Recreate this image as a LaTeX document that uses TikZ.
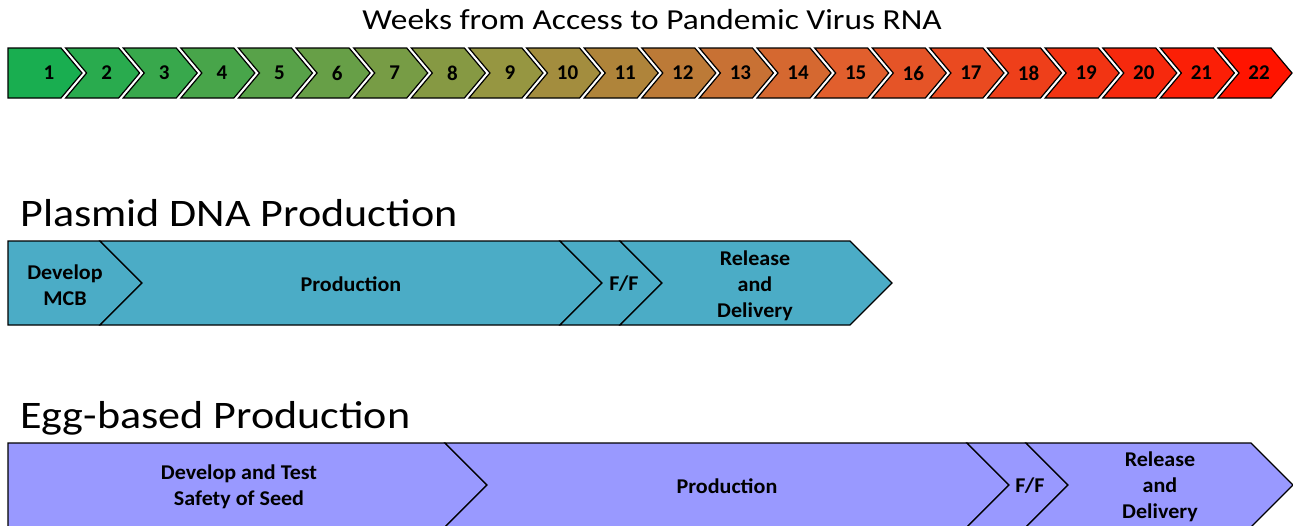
\documentclass[tikz,border=0pt]{standalone}
\usepackage{fontspec}
\setmainfont{Carlito}
\definecolor{tc1}{RGB}{25,174,80}
\definecolor{tc2}{RGB}{41,171,78}
\definecolor{tc3}{RGB}{56,168,76}
\definecolor{tc4}{RGB}{72,165,74}
\definecolor{tc5}{RGB}{88,162,73}
\definecolor{tc6}{RGB}{103,159,71}
\definecolor{tc7}{RGB}{119,156,69}
\definecolor{tc8}{RGB}{134,153,67}
\definecolor{tc9}{RGB}{150,150,65}
\definecolor{tc10}{RGB}{163,141,62}
\definecolor{tc11}{RGB}{175,132,58}
\definecolor{tc12}{RGB}{188,122,55}
\definecolor{tc13}{RGB}{200,113,52}
\definecolor{tc14}{RGB}{213,104,48}
\definecolor{tc15}{RGB}{225,95,45}
\definecolor{tc16}{RGB}{229,84,39}
\definecolor{tc17}{RGB}{234,74,32}
\definecolor{tc18}{RGB}{238,63,26}
\definecolor{tc19}{RGB}{242,52,19}
\definecolor{tc20}{RGB}{246,41,13}
\definecolor{tc21}{RGB}{251,31,6}
\definecolor{tc22}{RGB}{255,20,0}
\definecolor{plasmid}{RGB}{75,172,198}
\definecolor{egg}{RGB}{153,153,255}
\tikzset{
  chev/.style={draw=black, line width=1.2pt, line join=miter},
  tnum/.style={font=\bfseries\fontsize{21}{24}\selectfont, inner sep=0pt},
  lbl/.style={font=\bfseries\fontsize{21}{26}\selectfont, align=center, inner sep=0pt, xscale=1.05},
  head/.style={font=\fontsize{39}{46}\selectfont, anchor=base west, inner sep=0pt, xscale=1.13},
}
\begin{document}
\begin{tikzpicture}[x=1pt,y=-1pt]
\useasboundingbox (0,0) rectangle (1293,525);
% title
\node[font=\fontsize{29}{34}\selectfont, anchor=base, inner sep=0pt, xscale=1.15] (title) at (652,29) {Weeks from Access to Pandemic Virus RNA};
% timeline
\foreach \k in {1,...,22}{
  \pgfmathsetmacro{\x}{8+(\k-1)*57.62}
  \ifnum\k=1
    \draw[chev, fill=tc\k] (\x,48) -- (\x+53,48) -- (\x+74,73) -- (\x+53,98) -- (\x,98) -- cycle;
  \else
    \draw[chev, fill=tc\k] (\x,48) -- (\x+53,48) -- (\x+74,73) -- (\x+53,98) -- (\x,98) -- (\x+21,73) -- cycle;
  \fi
  \node[tnum] (n\k) at (\x+41,73) {\k};
}
% Plasmid
\node[head] (ph) at (20,226) {Plasmid DNA Production};
\draw[chev, fill=plasmid] (8,241) -- (100,241) -- (142,283) -- (100,325) -- (8,325) -- cycle;
\draw[chev, fill=plasmid] (100,241) -- (560,241) -- (602,283) -- (560,325) -- (100,325) -- (142,283) -- cycle;
\draw[chev, fill=plasmid] (560,241) -- (620,241) -- (662,283) -- (620,325) -- (560,325) -- (602,283) -- cycle;
\draw[chev, fill=plasmid] (620,241) -- (850,241) -- (892,283) -- (850,325) -- (620,325) -- (662,283) -- cycle;
\node[lbl] (p1) at (65,285) {Develop\\MCB};
\node[lbl] (p2) at (351,284) {Production};
\node[lbl] (p3) at (624,284) {F/F};
\node[lbl] (p4) at (755,286) {Release\\and\\Delivery};
% Egg
\node[head] (eh) at (20,428) {Egg-based Production};
\draw[chev, fill=egg] (8,443) -- (445,443) -- (487,485) -- (445,527) -- (8,527) -- cycle;
\draw[chev, fill=egg] (445,443) -- (967,443) -- (1009,485) -- (967,527) -- (445,527) -- (487,485) -- cycle;
\draw[chev, fill=egg] (967,443) -- (1026,443) -- (1068,485) -- (1026,527) -- (967,527) -- (1009,485) -- cycle;
\draw[chev, fill=egg] (1026,443) -- (1251,443) -- (1293,485) -- (1251,527) -- (1026,527) -- (1068,485) -- cycle;
\node[lbl] (e1) at (239,487) {Develop and Test\\Safety of Seed};
\node[lbl] (e2) at (727,486) {Production};
\node[lbl] (e3) at (1030,486) {F/F};
\node[lbl] (e4) at (1160,487) {Release\\and\\Delivery};
\end{tikzpicture}
\end{document}
